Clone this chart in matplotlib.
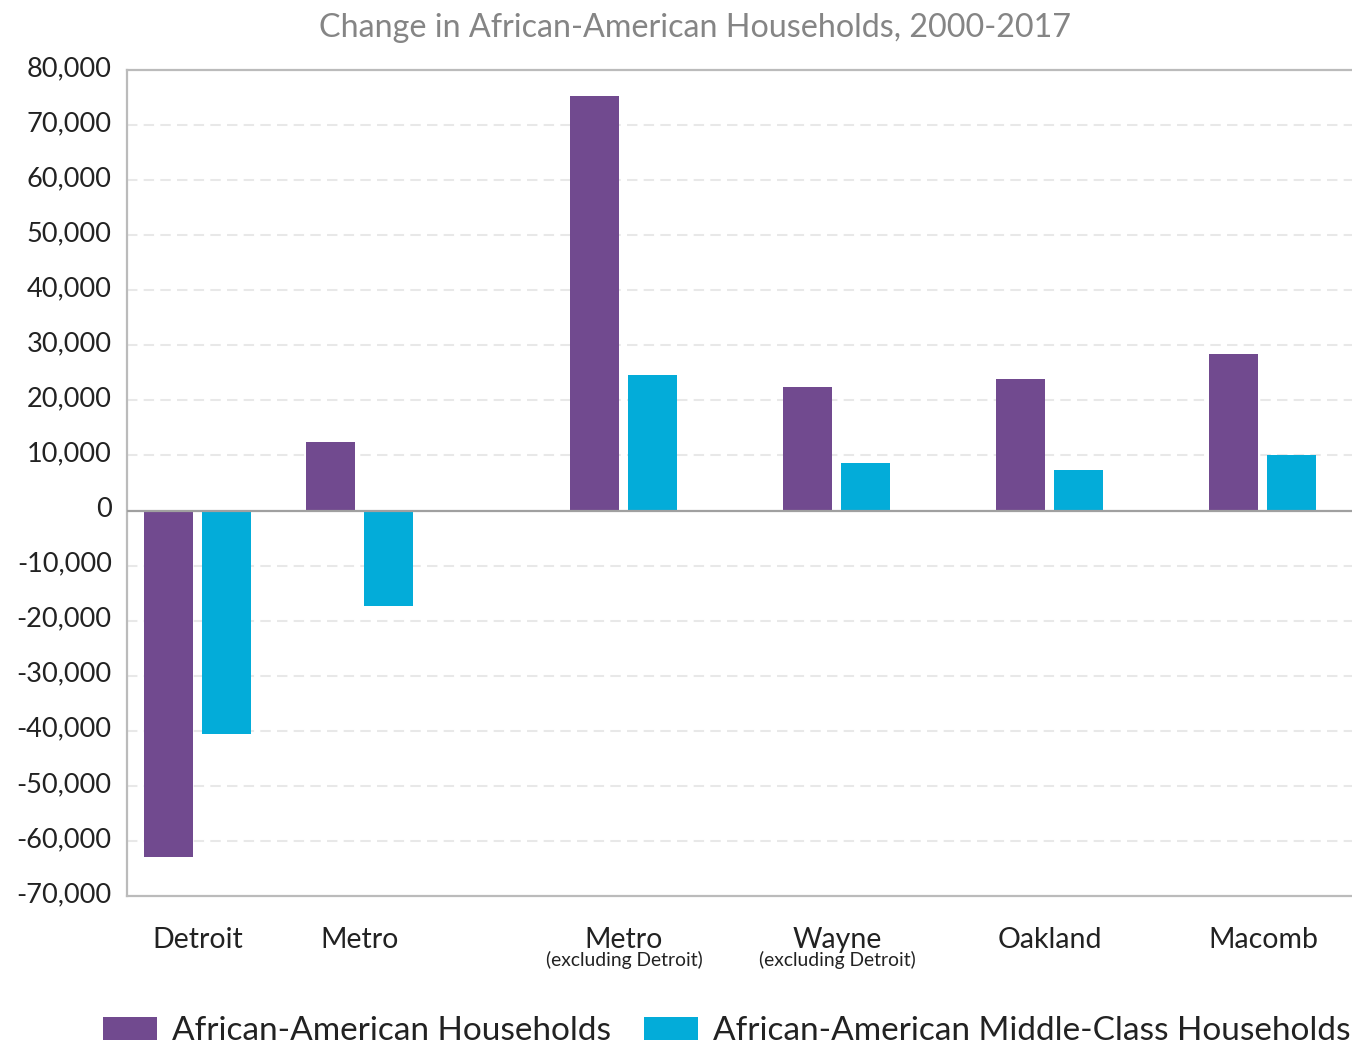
import matplotlib
matplotlib.use("Agg")
import matplotlib.pyplot as plt
import matplotlib.transforms as mtransforms
from matplotlib.patches import Patch
from matplotlib.ticker import FuncFormatter

# ---- data ----
categories = ["Detroit", "Metro", "Metro", "Wayne", "Oakland", "Macomb"]
subtitles = ["", "", "(excluding Detroit)", "(excluding Detroit)", "", ""]
aa_households = [-63000, 12400, 75300, 22500, 23800, 28500]
aa_middle_class = [-40500, -17400, 24700, 8700, 7450, 10000]
series_names = ["African-American Households", "African-American Middle-Class Households"]
title = "Change in African-American Households, 2000-2017"

# ---- layout ----
group_pos = [0.0, 0.76, 2.0, 3.0, 4.0, 5.0]
bar_w = 0.23
offset = 0.136
purple = "#714A8F"
cyan = "#03ACD9"
FONT = ["Lato", "DejaVu Sans"]
plt.rcParams["font.family"] = FONT

fig = plt.figure(figsize=(13.52, 10.44), dpi=100)
ax = fig.add_axes([127 / 1352, 1 - 896 / 1044, 1 - 127 / 1352, (896 - 70) / 1044])

ax.bar([p - offset for p in group_pos], aa_households, width=bar_w, color=purple, zorder=3)
ax.bar([p + offset for p in group_pos], aa_middle_class, width=bar_w, color=cyan, zorder=3)

ax.set_ylim(-70000, 80000)
ax.set_xlim(-0.333, 5.418)
ax.set_yticks(range(-70000, 80001, 10000))
ax.yaxis.set_major_formatter(FuncFormatter(lambda v, p: f"{v:,.0f}"))
for y in range(-60000, 80000, 10000):
    if y == 0:
        continue
    ax.axhline(y, color="#E8E8E8", lw=1.5, ls=(0, (5, 3)), zorder=1)
ax.axhline(0, color="#A0A0A0", lw=1.6, zorder=4)

for side in ["left", "top", "bottom"]:
    ax.spines[side].set_color("#BBBBBB")
    ax.spines[side].set_linewidth(1.6)
ax.spines["right"].set_visible(False)

ax.tick_params(axis="y", length=0, pad=11, labelsize=19.5, labelcolor="#222222")
ax.tick_params(axis="x", length=0, pad=22, labelsize=20.5, labelcolor="#222222")
ax.set_xticks(group_pos)
ax.set_xticklabels(categories)

shift_up = mtransforms.ScaledTranslation(0, 4 / 100, fig.dpi_scale_trans)
for lbl in ax.get_yticklabels():
    lbl.set_transform(lbl.get_transform() + shift_up)

trans = mtransforms.blended_transform_factory(ax.transData, fig.transFigure)
for p, s in zip(group_pos, subtitles):
    if s:
        ax.text(p, 1 - 960 / 1044, s, transform=trans, ha="center", va="center",
                fontsize=13.9, color="#222222")

fig.text(695 / 1352, 1 - 28 / 1044, title, ha="center", va="center", fontsize=23.2,
         color="#858585", fontweight="normal")

handles = [Patch(facecolor=purple), Patch(facecolor=cyan)]
fig.legend(handles, series_names, loc="center left",
           bbox_to_anchor=(103 / 1352, 1 - 1031 / 1044), ncol=2, frameon=False,
           fontsize=24, handlelength=1.62, handleheight=0.69, handletextpad=0.45,
           columnspacing=1.0, borderpad=0, borderaxespad=0, labelcolor="#222222")

fig.savefig("out.png", dpi=100)
